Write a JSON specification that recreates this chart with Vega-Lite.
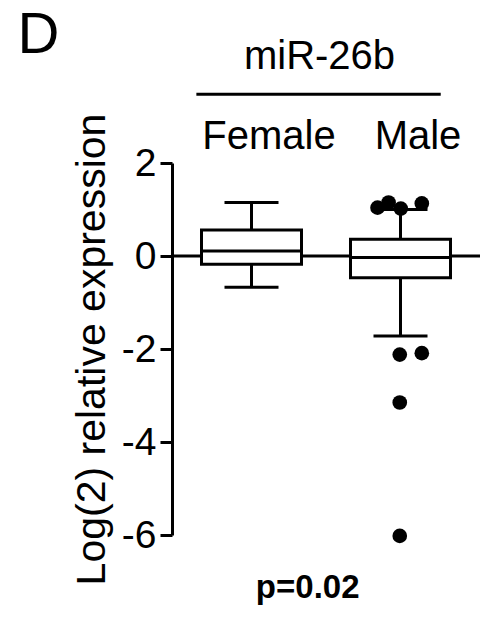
{
  "$schema": "https://vega.github.io/schema/vega-lite/v6.json",
  "width": 308,
  "height": 372,
  "autosize": {"type": "none"},
  "padding": {"left": 172, "top": 163, "right": 7, "bottom": 86},
  "background": "white",
  "config": {
    "font": "Liberation Sans",
    "view": {"stroke": null},
    "axis": {"grid": false}
  },
  "datasets": {
    "boxes": [
      {"group": "Female", "pos": 1, "lower": -0.67, "q1": -0.18, "median": 0.11, "q3": 0.56, "upper": 1.15},
      {"group": "Male", "pos": 2, "lower": -1.72, "q1": -0.47, "median": -0.03, "q3": 0.36, "upper": 1.0}
    ],
    "outliers": [
      {"group": "Male", "xpos": 1.846, "value": 1.04},
      {"group": "Male", "xpos": 1.92, "value": 1.15},
      {"group": "Male", "xpos": 2.002, "value": 1.02},
      {"group": "Male", "xpos": 2.143, "value": 1.13},
      {"group": "Male", "xpos": 1.995, "value": -2.12},
      {"group": "Male", "xpos": 2.143, "value": -2.09},
      {"group": "Male", "xpos": 1.995, "value": -3.15},
      {"group": "Male", "xpos": 1.995, "value": -6.02}
    ],
    "single": [{"n": 1}]
  },
  "layer": [
    {
      "data": {"name": "boxes"},
      "mark": {"type": "rule", "color": "black", "strokeWidth": 3},
      "encoding": {
        "x": {
          "field": "pos",
          "type": "quantitative",
          "scale": {"domain": [0.5, 2.5], "nice": false, "zero": false},
          "axis": {
            "orient": "top",
            "values": [1, 2],
            "labelExpr": "datum.value == 1 ? 'Female' : 'Male'",
            "domain": false,
            "ticks": false,
            "labelFontSize": 40,
            "labelColor": "black",
            "labelBaseline": "alphabetic",
            "labelPadding": 15,
            "labelOffset": 17,
            "labelFlush": false,
            "labelOverlap": false,
            "title": "miR-26b",
            "titleFontSize": 40,
            "titleFontWeight": "normal",
            "titleColor": "black",
            "titlePadding": 40,
            "titleX": 147
          }
        },
        "y": {
          "field": "lower",
          "type": "quantitative",
          "scale": {"domain": [-6, 2], "nice": false, "zero": false},
          "axis": {
            "values": [-6, -4, -2, 0, 2],
            "labelExpr": "'' + datum.value",
            "domainWidth": 3,
            "domainColor": "black",
            "tickWidth": 3,
            "tickColor": "black",
            "tickSize": 12,
            "labelFontSize": 39,
            "labelColor": "black",
            "labelPadding": 4,
            "labelFlush": false,
            "title": "Log(2) relative expression",
            "titleFontSize": 41,
            "titleFontWeight": "normal",
            "titleColor": "black",
            "titlePadding": 8
          }
        },
        "y2": {"field": "upper"}
      }
    },
    {
      "data": {"name": "single"},
      "mark": {"type": "rule", "color": "black", "strokeWidth": 3},
      "encoding": {
        "y": {"datum": 0, "type": "quantitative"}
      }
    },
    {
      "data": {"name": "boxes"},
      "mark": {"type": "bar", "size": 100, "fill": "white", "stroke": "black", "strokeWidth": 3, "opacity": 1},
      "encoding": {
        "x": {"field": "pos", "type": "quantitative"},
        "y": {"field": "q1", "type": "quantitative"},
        "y2": {"field": "q3"}
      }
    },
    {
      "data": {"name": "boxes"},
      "mark": {"type": "tick", "orient": "horizontal", "size": 100, "thickness": 3, "color": "black", "opacity": 1},
      "encoding": {
        "x": {"field": "pos", "type": "quantitative"},
        "y": {"field": "median", "type": "quantitative"}
      }
    },
    {
      "data": {"name": "boxes"},
      "transform": [{"fold": ["lower", "upper"], "as": ["end", "endval"]}],
      "mark": {"type": "tick", "orient": "horizontal", "size": 54, "thickness": 3, "color": "black", "opacity": 1},
      "encoding": {
        "x": {"field": "pos", "type": "quantitative"},
        "y": {"field": "endval", "type": "quantitative"}
      }
    },
    {
      "data": {"name": "outliers"},
      "mark": {"type": "point", "filled": true, "color": "black", "size": 215, "opacity": 1},
      "encoding": {
        "x": {"field": "xpos", "type": "quantitative"},
        "y": {"field": "value", "type": "quantitative"}
      }
    },
    {
      "data": {"name": "single"},
      "mark": {"type": "rule", "color": "black", "strokeWidth": 3},
      "encoding": {
        "x": {"datum": 0.63, "type": "quantitative"},
        "x2": {"datum": 2.27},
        "y": {"datum": 3.48, "type": "quantitative"}
      }
    },
    {
      "data": {"name": "single"},
      "mark": {"type": "text", "text": "D", "fontSize": 58, "align": "left", "baseline": "alphabetic", "color": "black"},
      "encoding": {
        "x": {"datum": -0.57, "type": "quantitative"},
        "y": {"datum": 4.36, "type": "quantitative"}
      }
    },
    {
      "data": {"name": "single"},
      "mark": {"type": "text", "text": "p=0.02", "fontSize": 33, "fontWeight": "bold", "align": "center", "baseline": "alphabetic", "color": "black"},
      "encoding": {
        "x": {"datum": 1.377, "type": "quantitative"},
        "y": {"datum": -7.36, "type": "quantitative"}
      }
    }
  ]
}
